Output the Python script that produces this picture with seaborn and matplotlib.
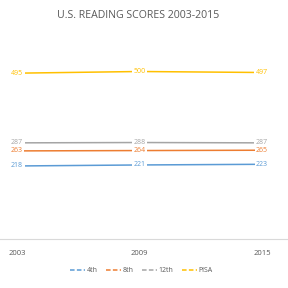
import matplotlib
matplotlib.use("Agg")
import matplotlib.pyplot as plt
import seaborn as sns
import pandas as pd
from matplotlib.lines import Line2D

years = ["2003", "2009", "2015"]
series = ["4th", "8th", "12th", "PISA"]
scores_4th = [218, 221, 223]
scores_8th = [263, 264, 265]
scores_12th = [287, 288, 287]
scores_pisa = [495, 500, 497]
colors = ["#5B9BD5", "#ED7D31", "#A5A5A5", "#FFC000"]

rows = []
for name, vals in zip(series, [scores_4th, scores_8th, scores_12th, scores_pisa]):
    for i, (y, v) in enumerate(zip(years, vals)):
        rows.append({"idx": i, "year": y, "series": name, "score": v})
df = pd.DataFrame(rows)

sns.set_style("white")
plt.rcParams["font.family"] = ["Open Sans", "DejaVu Sans"]

fig = plt.figure(figsize=(2.88, 2.88), dpi=100)
ax = fig.add_axes([0, 1 - 239 / 288, 1, 201 / 288])
sns.lineplot(data=df, x="idx", y="score", hue="series", palette=colors,
             hue_order=series, ax=ax, linewidth=1.1, legend=False)

# white backgrounds first, then the coloured label text on top
for name, c in zip(series, colors):
    sub = df[df.series == name]
    for _, r in sub.iterrows():
        ax.text(r.idx, r.score, str(r.score), ha="center", va="center",
                fontsize=5, color="white", zorder=3,
                bbox=dict(boxstyle="square,pad=0.2", fc="white", ec="none"))
for name, c in zip(series, colors):
    sub = df[df.series == name]
    for _, r in sub.iterrows():
        ax.text(r.idx, r.score, str(r.score), ha="center", va="center",
                fontsize=5, color=c, zorder=4)

ax.set_xlim(-17 / 122, 2 + 26 / 122)
ax.set_ylim(0, 600)
ax.set_xticks(range(len(years)))
ax.set_xticklabels(years, fontsize=5.5, color="#595959")
ax.tick_params(axis="x", length=0, pad=8)
ax.set_yticks([])
ax.set_xlabel("")
ax.set_ylabel("")
for s in ["top", "left", "right"]:
    ax.spines[s].set_visible(False)
ax.spines["bottom"].set_color("#D9D9D9")
ax.spines["bottom"].set_linewidth(0.8)

fig.text(0.48, 1 - 15 / 288, "U.S. READING SCORES 2003-2015", ha="center",
         va="center", fontsize=7.6, color="#595959")

handles = [Line2D([0], [0], color=c, lw=1.1, linestyle=(0, (3, 1.5))) for c in colors]
fig.legend(handles, series, loc="center", bbox_to_anchor=(0.49, 1 - 271 / 288),
           ncol=4, frameon=False, fontsize=5, handlelength=2.2,
           handletextpad=0.2, columnspacing=1.2, labelcolor="#595959")

fig.savefig("out.png", dpi=100, facecolor="white")
